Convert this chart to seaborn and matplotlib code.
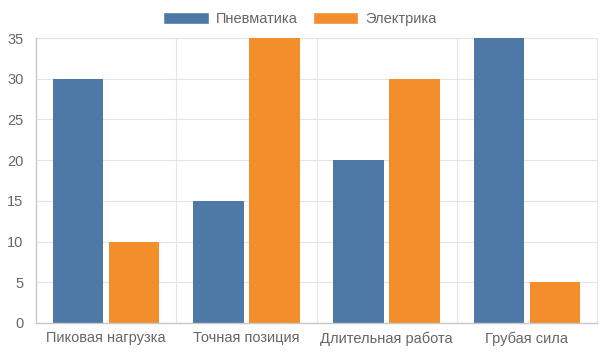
import pandas as pd
import seaborn as sns
import matplotlib.pyplot as plt
from matplotlib.patches import Patch

categories = ["Пиковая нагрузка", "Точная позиция", "Длительная работа", "Грубая сила"]
pneumatic = [30, 15, 20, 35]
electric = [10, 35, 30, 5]
series_names = ["Пневматика", "Электрика"]
colors = ["#4e79a7", "#f28e2b"]

df = pd.DataFrame({
    "category": categories * 2,
    "value": pneumatic + electric,
    "series": [series_names[0]] * 4 + [series_names[1]] * 4,
})

sns.set_theme(style="white")
plt.rcParams["font.family"] = ["Liberation Sans", "DejaVu Sans"]

fig = plt.figure(figsize=(6, 3.6), dpi=100)
ax = fig.add_axes([36 / 600, 37 / 360, 561 / 600, 285 / 360])

sns.barplot(data=df, x="category", y="value", hue="series", palette=colors,
            width=0.8, gap=0.1, ax=ax, legend=False, saturation=1, linewidth=0)

grid_c = "#e4e4e4"
axis_c = "#c8c8c8"
ax.set_ylim(0, 35)
ax.set_xlim(-0.5, 3.5)
ax.set_yticks(range(0, 36, 5))
ax.yaxis.grid(True, color=grid_c, lw=0.8)
ax.set_xticks([0.5, 1.5, 2.5], minor=True)
ax.xaxis.grid(True, which="minor", color=grid_c, lw=0.8)
ax.set_axisbelow(True)
ax.set_xlabel("")
ax.set_ylabel("")
ax.tick_params(axis="x", which="major", length=0, pad=6, labelsize=10.5, labelcolor="#666666")
ax.tick_params(axis="x", which="minor", length=10, color=grid_c, width=0.8)
ax.tick_params(axis="y", length=6, color=grid_c, width=0.8, pad=3, labelsize=10.5, labelcolor="#666666")
ax.spines["top"].set_visible(False)
ax.spines["right"].set_color(grid_c)
ax.spines["right"].set_linewidth(0.8)
ax.spines["left"].set_color(axis_c)
ax.spines["bottom"].set_color(axis_c)
ax.spines["left"].set_linewidth(1)
ax.spines["bottom"].set_linewidth(1)

handles = [Patch(facecolor=c, label=n) for c, n in zip(colors, series_names)]
fig.legend(handles=handles, loc="center", bbox_to_anchor=(0.5, 1 - 19 / 360), ncol=2,
           frameon=False, fontsize=10.5, labelcolor="#666666",
           handlelength=3.15, handleheight=0.9, handletextpad=0.5, columnspacing=1.0)

fig.savefig("out.png", dpi=100)
